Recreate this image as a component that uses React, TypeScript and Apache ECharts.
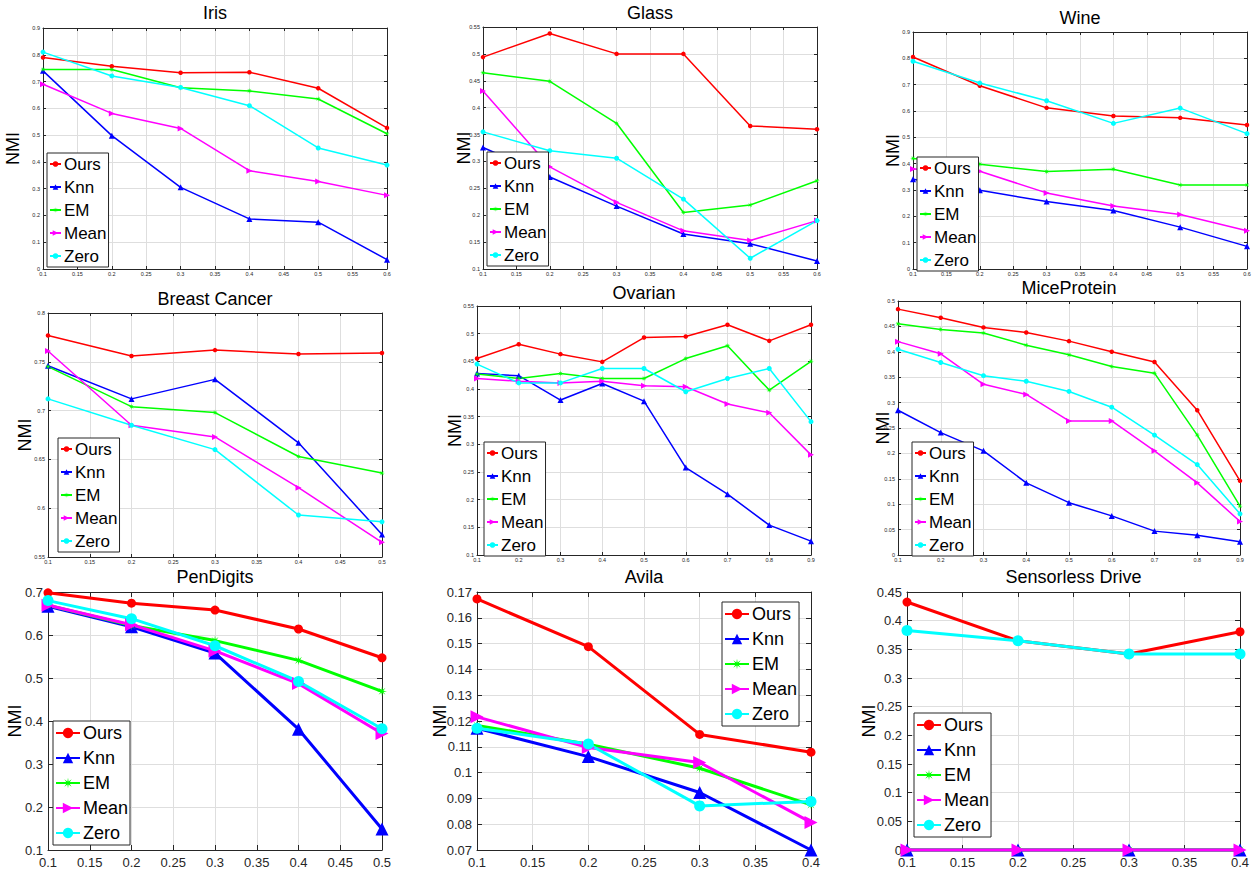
import React, { useEffect, useRef } from "react";
import * as echarts from "echarts";

const METHODS = ["Ours", "Knn", "EM", "Mean", "Zero"];
const COLORS = ["#ff0000", "#0000ff", "#00ff00", "#ff00ff", "#00ffff"];

const X06 = [0.1, 0.2, 0.3, 0.4, 0.5, 0.6];
const X05 = [0.1, 0.2, 0.3, 0.4, 0.5];
const X09 = [0.1, 0.2, 0.3, 0.4, 0.5, 0.6, 0.7, 0.8, 0.9];
const X04 = [0.1, 0.2, 0.3, 0.4];

const irisOurs = [0.79, 0.757, 0.733, 0.735, 0.675, 0.527];
const irisKnn = [0.74, 0.498, 0.305, 0.187, 0.175, 0.035];
const irisEM = [0.745, 0.745, 0.677, 0.665, 0.635, 0.505];
const irisMean = [0.69, 0.581, 0.525, 0.367, 0.327, 0.275];
const irisZero = [0.81, 0.721, 0.678, 0.61, 0.452, 0.388];

const glassOurs = [0.494, 0.538, 0.5, 0.5, 0.366, 0.36];
const glassKnn = [0.326, 0.271, 0.217, 0.165, 0.147, 0.115];
const glassEM = [0.465, 0.449, 0.371, 0.205, 0.219, 0.264];
const glassMean = [0.431, 0.29, 0.224, 0.171, 0.153, 0.19];
const glassZero = [0.355, 0.32, 0.306, 0.23, 0.12, 0.19];

const wineOurs = [0.805, 0.696, 0.612, 0.581, 0.574, 0.547];
const wineKnn = [0.341, 0.299, 0.256, 0.222, 0.159, 0.086];
const wineEM = [0.42, 0.398, 0.37, 0.379, 0.319, 0.319];
const wineMean = [0.38, 0.371, 0.289, 0.239, 0.207, 0.145];
const wineZero = [0.789, 0.706, 0.639, 0.553, 0.611, 0.514];

const breastOurs = [0.777, 0.756, 0.762, 0.758, 0.759];
const breastKnn = [0.746, 0.712, 0.732, 0.667, 0.573];
const breastEM = [0.745, 0.704, 0.698, 0.653, 0.636];
const breastMean = [0.761, 0.685, 0.673, 0.621, 0.565];
const breastZero = [0.712, 0.685, 0.66, 0.593, 0.586];

const ovarianOurs = [0.455, 0.481, 0.463, 0.449, 0.493, 0.495, 0.516, 0.487, 0.516];
const ovarianKnn = [0.428, 0.424, 0.38, 0.41, 0.378, 0.258, 0.21, 0.154, 0.125];
const ovarianEM = [0.427, 0.419, 0.428, 0.419, 0.419, 0.455, 0.478, 0.398, 0.45];
const ovarianMean = [0.419, 0.414, 0.411, 0.414, 0.406, 0.404, 0.373, 0.357, 0.281];
const ovarianZero = [0.445, 0.411, 0.411, 0.437, 0.437, 0.395, 0.419, 0.437, 0.341];

const miceOurs = [0.484, 0.467, 0.448, 0.438, 0.421, 0.4, 0.38, 0.285, 0.146];
const miceKnn = [0.285, 0.241, 0.205, 0.142, 0.103, 0.077, 0.047, 0.039, 0.026];
const miceEM = [0.455, 0.444, 0.437, 0.413, 0.394, 0.371, 0.358, 0.236, 0.096];
const miceMean = [0.42, 0.396, 0.336, 0.316, 0.264, 0.264, 0.205, 0.142, 0.066];
const miceZero = [0.405, 0.379, 0.353, 0.342, 0.322, 0.291, 0.236, 0.178, 0.081];

const penOurs = [0.698, 0.674, 0.658, 0.614, 0.547];
const penKnn = [0.667, 0.619, 0.558, 0.381, 0.149];
const penEM = [0.669, 0.622, 0.587, 0.541, 0.469];
const penMean = [0.669, 0.624, 0.563, 0.487, 0.371];
const penZero = [0.68, 0.638, 0.575, 0.492, 0.382];

const avilaOurs = [0.1673, 0.1488, 0.1148, 0.1079];
const avilaKnn = [0.1172, 0.1062, 0.0923, 0.07];
const avilaEM = [0.1183, 0.111, 0.1017, 0.0875];
const avilaMean = [0.1216, 0.1097, 0.1039, 0.0807];
const avilaZero = [0.1172, 0.1111, 0.0871, 0.0888];

const sensOurs = [0.4325, 0.365, 0.3417, 0.3807];
const sensKnn = [0, 0, 0, 0];
const sensEM = [0, 0, 0, 0];
const sensMean = [0, 0, 0, 0];
const sensZero = [0.383, 0.365, 0.342, 0.342];

// layout / style per panel
type Panel = {
  title: string;
  x: number[];
  ys: number[][];
  grid: [number, number, number, number];
  xr: [number, number, number];
  yr: [number, number, number];
  leg: [number, number];
  big: boolean;
  titleY: number;
  nmiX: number;
};

const PANELS: Panel[] = [
  { title: "Iris", x: X06, ys: [irisOurs, irisKnn, irisEM, irisMean, irisZero], grid: [43, 28, 344, 241], xr: [0.1, 0.6, 0.05], yr: [0, 0.9, 0.1], leg: [47, 153], big: false, titleY: 14, nmiX: 13 },
  { title: "Glass", x: X06, ys: [glassOurs, glassKnn, glassEM, glassMean, glassZero], grid: [483, 27, 334, 242], xr: [0.1, 0.6, 0.05], yr: [0.1, 0.55, 0.05], leg: [487, 152], big: false, titleY: 14, nmiX: 464 },
  { title: "Wine", x: X06, ys: [wineOurs, wineKnn, wineEM, wineMean, wineZero], grid: [913, 32, 334, 237], xr: [0.1, 0.6, 0.05], yr: [0, 0.9, 0.1], leg: [917, 157], big: false, titleY: 19, nmiX: 893 },
  { title: "Breast Cancer", x: X05, ys: [breastOurs, breastKnn, breastEM, breastMean, breastZero], grid: [48, 313, 334, 244], xr: [0.1, 0.5, 0.05], yr: [0.55, 0.8, 0.05], leg: [58, 438], big: false, titleY: 300, nmiX: 25 },
  { title: "Ovarian", x: X09, ys: [ovarianOurs, ovarianKnn, ovarianEM, ovarianMean, ovarianZero], grid: [477, 306, 334, 249], xr: [0.1, 0.9, 0.1], yr: [0.1, 0.55, 0.05], leg: [484, 442], big: false, titleY: 294, nmiX: 455 },
  { title: "MiceProtein", x: X09, ys: [miceOurs, miceKnn, miceEM, miceMean, miceZero], grid: [898, 301, 342, 254], xr: [0.1, 0.9, 0.1], yr: [0, 0.5, 0.05], leg: [912, 442], big: false, titleY: 289, nmiX: 883 },
  { title: "PenDigits", x: X05, ys: [penOurs, penKnn, penEM, penMean, penZero], grid: [48, 592, 334, 258], xr: [0.1, 0.5, 0.05], yr: [0.1, 0.7, 0.1], leg: [53, 721], big: true, titleY: 578, nmiX: 15 },
  { title: "Avila", x: X04, ys: [avilaOurs, avilaKnn, avilaEM, avilaMean, avilaZero], grid: [477, 592, 334, 258], xr: [0.1, 0.4, 0.05], yr: [0.07, 0.17, 0.01], leg: [722, 602], big: true, titleY: 578, nmiX: 440 },
  { title: "Sensorless Drive", x: X04, ys: [sensOurs, sensKnn, sensEM, sensMean, sensZero], grid: [907, 592, 333, 258], xr: [0.1, 0.4, 0.05], yr: [0, 0.45, 0.05], leg: [914, 713], big: true, titleY: 578, nmiX: 869 },
];

const FONT = "'Liberation Sans', Arial, Helvetica, sans-serif";

function asteriskPath(): string {
  const pts: string[] = [];
  for (let i = 0; i < 16; i++) {
    const a = (i * Math.PI) / 8;
    const r = i % 2 === 0 ? 10 : 3;
    pts.push(`${(10 + r * Math.cos(a)).toFixed(2)} ${(10 + r * Math.sin(a)).toFixed(2)}`);
  }
  return "path://M" + pts.join(" L") + " Z";
}
const EM_SYMBOL = asteriskPath();

const fmt = (v: number) => String(parseFloat(v.toFixed(4)));

function buildOption() {
  const grid: any[] = [];
  const xAxis: any[] = [];
  const yAxis: any[] = [];
  const series: any[] = [];
  const legend: any[] = [];
  const title: any[] = [];
  const graphic: any[] = [];
  const axisCol = "#262626";

  PANELS.forEach((p, pi) => {
    const [l, t, w, h] = p.grid;
    grid.push({ left: l, top: t, width: w, height: h, containLabel: false });
    const big = p.big;
    const tickFont = big ? 13 : 5.5;
    const tickLen = big ? 5 : 3;
    const base = {
      type: "value",
      gridIndex: pi,
      axisLine: { show: true, onZero: false, lineStyle: { color: axisCol, width: 1 } },
      axisTick: { show: true, inside: true, length: tickLen, lineStyle: { color: axisCol } },
    };
    xAxis.push({
      ...base,
      position: "bottom",
      min: p.xr[0],
      max: p.xr[1],
      interval: p.xr[2],
      axisLabel: { show: true, fontSize: tickFont, color: axisCol, margin: big ? 6 : 2, fontFamily: FONT, formatter: fmt },
      splitLine: { show: true, lineStyle: { color: "#dedede", width: 1 } },
    });
    xAxis.push({
      ...base,
      position: "top",
      min: p.xr[0],
      max: p.xr[1],
      interval: p.xr[2],
      axisLabel: { show: false },
      splitLine: { show: false },
    });
    yAxis.push({
      ...base,
      position: "left",
      min: p.yr[0],
      max: p.yr[1],
      interval: p.yr[2],
      axisLabel: { show: true, fontSize: tickFont, color: axisCol, margin: big ? 5 : 3, fontFamily: FONT, formatter: fmt },
      splitLine: { show: true, lineStyle: { color: "#dedede", width: 1 } },
    });
    yAxis.push({
      ...base,
      position: "right",
      min: p.yr[0],
      max: p.yr[1],
      interval: p.yr[2],
      axisLabel: { show: false },
      splitLine: { show: false },
    });

    const names: string[] = [];
    METHODS.forEach((m, k) => {
      const name = `${m}|${pi}`;
      names.push(name);
      let symbol = "circle";
      let size = big ? 9 : 4.5;
      let rotate = 0;
      if (k === 1) { symbol = "triangle"; size = big ? 13 : 6; }
      if (k === 2) { symbol = EM_SYMBOL; size = big ? 10 : 6; }
      if (k === 3) { symbol = "triangle"; size = big ? 13 : 6; rotate = -90; }
      if (k === 4) { symbol = "circle"; size = big ? 11 : 5; }
      series.push({
        type: "line",
        name,
        xAxisIndex: pi * 2,
        yAxisIndex: pi * 2,
        data: p.x.map((xv, i) => [xv, p.ys[k][i]]),
        symbol,
        symbolSize: size,
        symbolRotate: rotate,
        showSymbol: true,
        clip: false,
        lineStyle: { color: COLORS[k], width: big ? 3 : 1.5 },
        itemStyle: { color: COLORS[k] },
        emphasis: { disabled: true },
        silent: true,
      });
    });

    legend.push({
      data: names,
      orient: "vertical",
      left: p.leg[0],
      top: p.leg[1],
      padding: [2, 2, 2, 2],
      itemGap: 5,
      itemWidth: big ? 24 : 11,
      itemHeight: big ? 13 : 7,
      backgroundColor: "#ffffff",
      borderColor: axisCol,
      borderWidth: 1,
      borderRadius: 0,
      selectedMode: false,
      formatter: (n: string) => n.split("|")[0],
      textStyle: { fontSize: big ? 18 : 17, lineHeight: big ? 20 : 18, color: "#000", fontFamily: FONT, padding: [0, 0, 0, -2] },
    });

    title.push({
      text: p.title,
      left: l + w / 2,
      top: p.titleY - 10,
      textAlign: "center",
      padding: 0,
      textStyle: { fontSize: 18, fontWeight: "normal", color: "#000", fontFamily: FONT },
    });

    graphic.push({
      type: "text",
      x: p.nmiX,
      y: t + h / 2,
      rotation: Math.PI / 2,
      style: { text: "NMI", fontSize: 18, fill: "#000", align: "center", verticalAlign: "middle", fontFamily: FONT },
    });
  });

  return {
    animation: false,
    backgroundColor: "#ffffff",
    title,
    grid,
    xAxis,
    yAxis,
    legend,
    series,
    graphic,
  };
}

export default function App() {
  const ref = useRef<HTMLDivElement>(null);
  useEffect(() => {
    if (!ref.current) return;
    const chart = echarts.init(ref.current, undefined, { renderer: "svg" });
    chart.setOption(buildOption() as any);
    return () => chart.dispose();
  }, []);
  return (
    <div
      ref={ref}
      style={{ position: "absolute", left: 0, top: 0, width: 1255, height: 869, background: "#fff" }}
    />
  );
}
